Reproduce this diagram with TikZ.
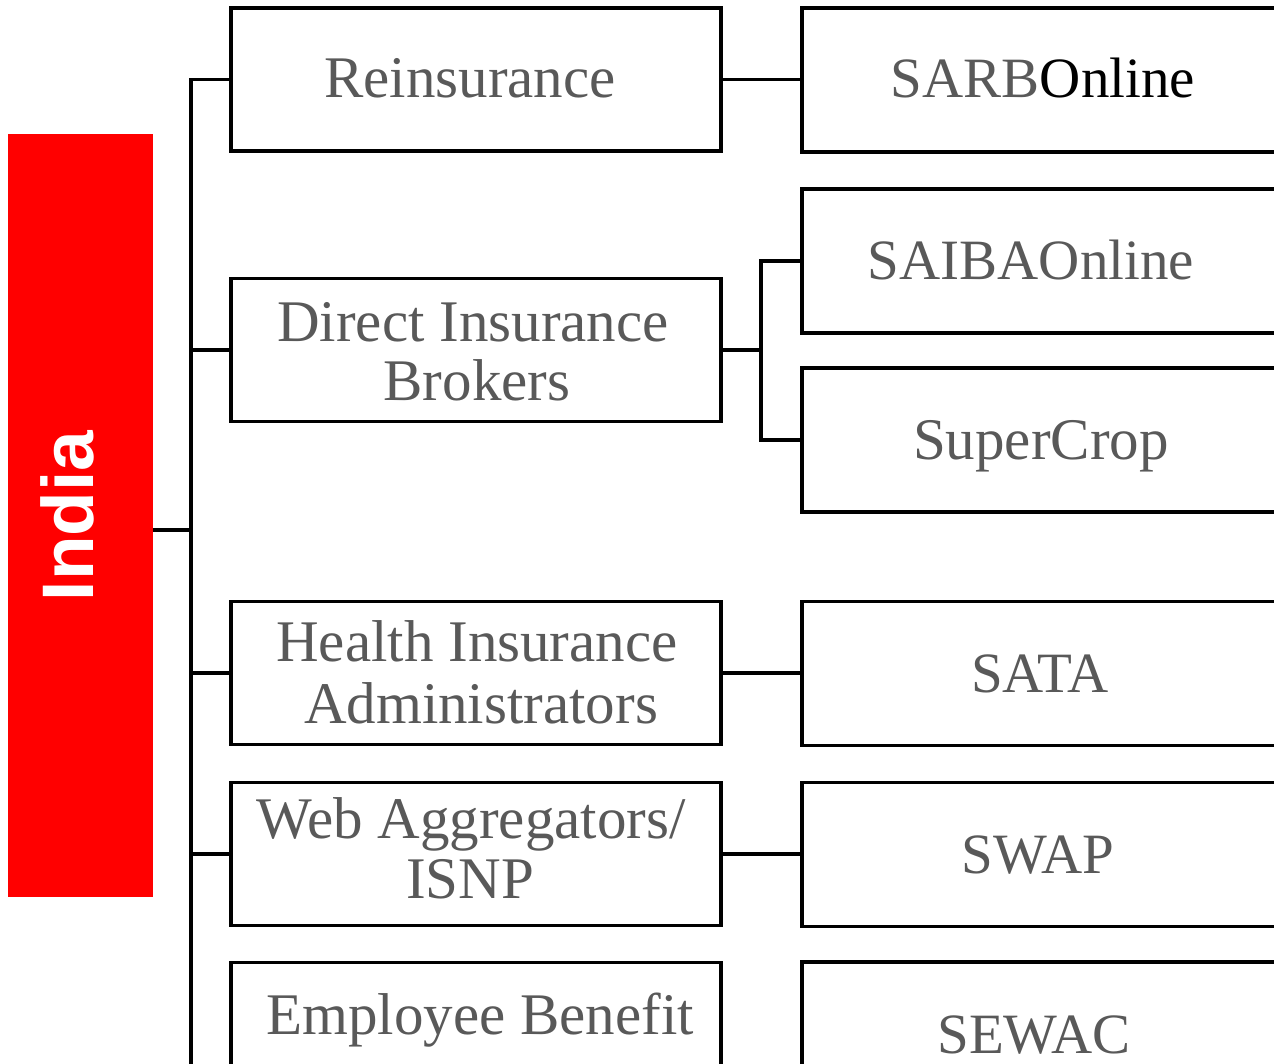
\documentclass[tikz,border=0pt]{standalone}
\usepackage{fontspec}
\setmainfont{Liberation Serif}
\newfontfamily\indiafont{Liberation Sans}
\usetikzlibrary{calc}
\definecolor{txtgray}{HTML}{595959}
\definecolor{indiared}{HTML}{FF0000}
\begin{document}
\begin{tikzpicture}[x=1pt,y=-1pt,
  box/.style={draw=black, line width=3.6pt, rectangle, inner sep=0pt, minimum width=490pt, minimum height=143pt},
  rbox/.style={draw=black, line width=3.6pt, rectangle, inner sep=0pt, minimum width=488pt, minimum height=144pt},
  lbl/.style={font=\fontsize{59}{60}\selectfont, text=txtgray, inner sep=0pt, anchor=base},
  capl/.style={lbl, font=\fontsize{57}{60}\selectfont},
  conn/.style={draw=black, line width=3.6pt}]
\useasboundingbox (0,0) rectangle (1274,1064);
\clip (0,0) rectangle (1274,1064);
% root
\node[fill=indiared, inner sep=0pt, minimum width=145pt, minimum height=763pt] (india) at (80.5,515.5) {};
\node[font=\indiafont\bfseries\fontsize{73}{73}\selectfont, text=white, inner sep=0pt, anchor=base, rotate=90] (indiatxt) at (93,516) {India};
% left boxes
\node[box] (rein) at (476,79.5) {};
\node[box] (dib) at (476,350) {};
\node[box] (hia) at (476,673) {};
\node[box] (wa) at (476,854) {};
\node[box] (eb) at (476,1034) {};
% right boxes
\node[rbox] (sarb) at (1046,80) {};
\node[rbox] (saiba) at (1046,261) {};
\node[rbox] (super) at (1046,440) {};
\node[rbox] (sata) at (1046,673.5) {};
\node[rbox] (swap) at (1046,854.5) {};
\node[rbox] (sewac) at (1046,1034) {};
% labels
\node[lbl] (t1) at (470,98) {Reinsurance};
\node[lbl] (t2a) at (473,342) {Direct Insurance};
\node[lbl] (t2b) at (477,400) {Brokers};
\node[lbl] (t3a) at (477,661) {Health Insurance};
\node[lbl] (t3b) at (481,723) {Administrators};
\node[lbl] (t4a) at (471,838) {Web Aggregators/};
\node[lbl] (t4b) at (470,898) {ISNP};
\node[lbl] (t5) at (480,1034) {Employee Benefit};
\node[capl] (r1) at (1043,98) {SARB\textcolor{black}{Online}};
\node[capl] (r2) at (1031,280) {SAIBAOnline};
\node[lbl] (r3) at (1041,459) {SuperCrop};
\node[capl] (r4) at (1040,692) {SATA};
\node[capl] (r5) at (1038,873) {SWAP};
\node[capl] (r6) at (1034,1053) {SEWAC};
% connectors
\coordinate (tbot) at (191,1080);
\coordinate (jI) at (191,530);
\coordinate (jD) at (761,350);
\draw[conn] (india.east |- jI) -- (jI);
\draw[conn] (rein.west) -| (tbot);
\draw[conn] (dib.west) -- (dib.west -| tbot);
\draw[conn] (hia.west) -- (hia.west -| tbot);
\draw[conn] (wa.west) -- (wa.west -| tbot);
\draw[conn] (rein.east) -- (rein.east -| sarb.west);
\draw[conn] (dib.east) -- (jD);
\draw[conn] (saiba.west) -| (jD |- super.west) -- (super.west);
\draw[conn] (hia.east) -- (hia.east -| sata.west);
\draw[conn] (wa.east) -- (wa.east -| swap.west);
\end{tikzpicture}
\end{document}
